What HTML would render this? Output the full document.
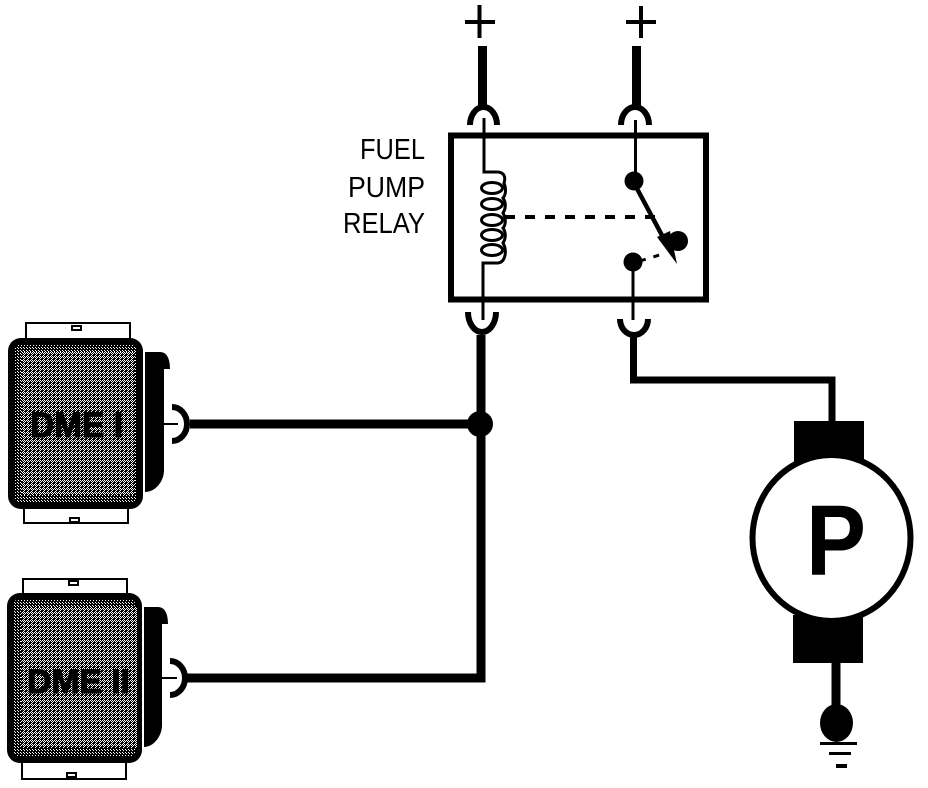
<!DOCTYPE html>
<html><head><meta charset="utf-8"><style>
html,body{margin:0;padding:0;background:#fff}
svg{display:block}
text{font-family:"Liberation Sans",sans-serif}
</style></head><body>
<svg width="928" height="788" viewBox="0 0 928 788" xmlns="http://www.w3.org/2000/svg">
<defs>
<pattern id="d" width="4" height="4" patternUnits="userSpaceOnUse">
<rect width="4" height="4" fill="#000"/>
<rect x="0" y="0" width="1" height="1" fill="#fff"/><rect x="2" y="0" width="1" height="1" fill="#fff"/>
<rect x="1" y="1" width="1" height="1" fill="#fff"/><rect x="3" y="1" width="1" height="1" fill="#fff"/>
<rect x="0" y="2" width="1" height="1" fill="#fff"/><rect x="3" y="3" width="1" height="1" fill="#fff"/>
</pattern>
<pattern id="e" width="3" height="3" patternUnits="userSpaceOnUse">
<rect width="3" height="3" fill="#000"/>
<rect x="0" y="0" width="1" height="1" fill="#fff"/><rect x="2" y="2" width="1" height="1" fill="#fff"/>
</pattern>
</defs>
<rect width="928" height="788" fill="#fff"/>

<!-- plus signs -->
<g fill="#000">
<rect x="465" y="20" width="30" height="4"/><rect x="477.500" y="5" width="4" height="33"/>
<rect x="626" y="20" width="30" height="4"/><rect x="639" y="6" width="4" height="32"/>
</g>

<!-- wires -->
<g fill="none" stroke="#000" stroke-linejoin="miter">
<path d="M482.500 46V106" stroke-width="9"/>
<path d="M636.500 46V106" stroke-width="9"/>
<path d="M481 335V678H187" stroke-width="9"/>
<path d="M190 424H480" stroke-width="9"/>
<path d="M633.500 337V380H832V422" stroke-width="7"/>
<path d="M836 663V710" stroke-width="9"/>
</g>
<circle cx="480" cy="424" r="13" fill="#000"/>

<!-- relay -->
<rect x="451" y="135.500" width="255" height="164" fill="none" stroke="#000" stroke-width="6"/>
<g fill="none" stroke="#000" stroke-width="6">
<path d="M470 125A13.500 18 0 0 1 497 125"/>
<path d="M621 125A14 18 0 0 1 649 125"/>
<path d="M468 312A14 20 0 0 0 496 312"/>
<path d="M620 319A14 16 0 0 0 648 319"/>
<path d="M172 407A15 17 0 0 1 172 441"/>
<path d="M170 661A15 17 0 0 1 170 695"/>
</g>
<g fill="none" stroke="#000" stroke-width="3">
<path d="M484 118V172H497C504 172 506 177 504 183C507 190 505 196 503 198C507 204 505 210 503 213C507 220 505 226 503 228C507 234 505 240 503 243C507 250 506 262 498 263H483V320"/>
<path d="M635.500 120V181"/>
<path d="M633 262V320"/>
<ellipse cx="492" cy="188" rx="10.500" ry="5.500"/>
<ellipse cx="492" cy="204" rx="10.500" ry="5.500"/>
<ellipse cx="492" cy="220" rx="10.500" ry="5.500"/>
<ellipse cx="492" cy="235" rx="10.500" ry="5.500"/>
<ellipse cx="492" cy="250" rx="10.500" ry="5.500"/>
</g>
<path d="M505 217H655" stroke="#000" stroke-width="4" fill="none" stroke-dasharray="10 10"/>
<path d="M640 261L666 253" stroke="#000" stroke-width="3" fill="none" stroke-dasharray="6 8"/>
<path d="M634 183L664 239" stroke="#000" stroke-width="4.500" fill="none"/>
<path d="M657 237L670 231L677 264Z" fill="#000"/>
<circle cx="634" cy="181" r="9.500" fill="#000"/>
<circle cx="678" cy="241" r="10" fill="#000"/>
<circle cx="633" cy="262" r="9.500" fill="#000"/>

<g font-size="29" fill="#000">
<text x="360" y="159" textLength="65" lengthAdjust="spacingAndGlyphs">FUEL</text>
<text x="348" y="197" textLength="77" lengthAdjust="spacingAndGlyphs">PUMP</text>
<text x="343" y="233" textLength="82" lengthAdjust="spacingAndGlyphs">RELAY</text>
</g>

<!-- DME I -->
<rect x="26" y="323" width="104" height="16" fill="#fff" stroke="#000" stroke-width="2"/>
<rect x="24" y="506" width="104" height="17" fill="#fff" stroke="#000" stroke-width="2"/>
<rect x="72" y="326" width="9" height="4" fill="#fff" stroke="#000" stroke-width="2"/>
<rect x="70" y="518" width="9" height="4" fill="#fff" stroke="#000" stroke-width="2"/>
<rect x="8" y="338" width="135" height="171" rx="13" fill="#000"/>
<rect x="15" y="345" width="121" height="157" rx="3" fill="url(#e)"/>
<rect x="22" y="352" width="113" height="143" fill="url(#d)"/>
<path d="M145 352H160C167 352 170 359 170 369H164V470C164 482 155 492 145 492Z" fill="#000"/>
<path d="M162 424H178" stroke="#000" stroke-width="2"/>
<text x="30" y="437" font-size="35" font-weight="bold" fill="#000" stroke="#000" stroke-width="1" textLength="93" lengthAdjust="spacingAndGlyphs">DME I</text>

<!-- DME II -->
<rect x="23" y="579" width="104" height="16" fill="#fff" stroke="#000" stroke-width="2"/>
<rect x="22" y="760" width="104" height="19" fill="#fff" stroke="#000" stroke-width="2"/>
<rect x="69" y="581" width="9" height="4" fill="#fff" stroke="#000" stroke-width="2"/>
<rect x="67" y="773" width="9" height="4" fill="#fff" stroke="#000" stroke-width="2"/>
<rect x="7" y="593" width="135" height="170" rx="13" fill="#000"/>
<rect x="14" y="600" width="121" height="156" rx="3" fill="url(#e)"/>
<rect x="21" y="607" width="116" height="141" fill="url(#d)"/>
<path d="M144 607H158C165 607 168 614 168 624H162V725C162 737 153 747 144 747Z" fill="#000"/>
<path d="M160 678H177" stroke="#000" stroke-width="2"/>
<text x="27" y="693" font-size="34" font-weight="bold" fill="#000" stroke="#000" stroke-width="1" textLength="103" lengthAdjust="spacingAndGlyphs">DME II</text>

<!-- motor -->
<rect x="794" y="421" width="70" height="45" fill="#000"/>
<rect x="793" y="615" width="70" height="48" fill="#000"/>
<ellipse cx="831.500" cy="538" rx="79" ry="83" fill="#fff" stroke="#000" stroke-width="6"/>
<text x="806" y="575" font-size="100" font-weight="bold" fill="#000" textLength="60" lengthAdjust="spacingAndGlyphs">P</text>

<!-- ground -->
<ellipse cx="836.500" cy="723" rx="16.500" ry="19" fill="#000"/>
<g fill="#000">
<rect x="820" y="742" width="37" height="3"/>
<rect x="829" y="752" width="22" height="3"/>
<rect x="836" y="764" width="11" height="4"/>
</g>
</svg>
</body></html>
